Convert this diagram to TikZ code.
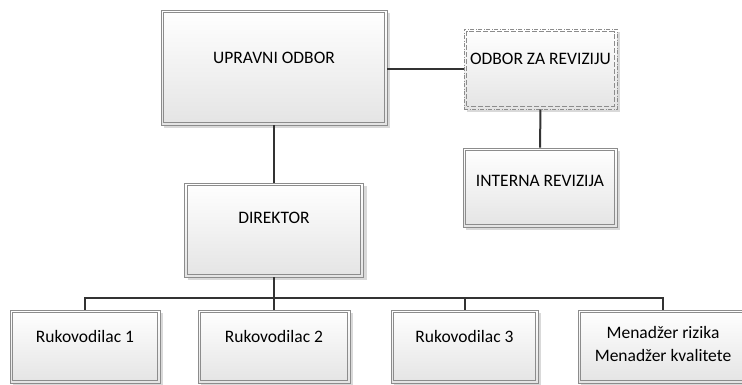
\documentclass[tikz,border=0pt]{standalone}
\usepackage{xcolor}
\usepackage{fontspec}
\setmainfont{Carlito}
\usetikzlibrary{shadows}

\definecolor{boxline}{HTML}{8C8C8C}
\definecolor{boxbottom}{HTML}{E4E4E4}
\definecolor{linkline}{HTML}{333333}

\tikzset{
    orgbox/.style={draw=boxline, line width=0.7pt,
        top color=white, bottom color=boxbottom, align=center,
        font=\fontsize{17.5}{23}\selectfont, text depth=20pt,
        drop shadow={shadow xshift=3pt, shadow yshift=-3pt, fill=black!15, opacity=1},
        path picture={\draw[boxline, line width=0.7pt, #1]
            ([shift={(2.8pt,2.8pt)}]path picture bounding box.south west) rectangle
            ([shift={(-2.8pt,-2.8pt)}]path picture bounding box.north east);}},
    orgbox/.default={solid},
    dashbox/.style={orgbox={dash pattern=on 5pt off 2pt}, dash pattern=on 4pt off 1.5pt on 1pt off 1.5pt},
    link/.style={draw=linkline, line width=2pt}
}

\begin{document}
\begin{tikzpicture}[x=1pt, y=-1pt]
        \useasboundingbox (0,0) rectangle (742,384);

        % Top level
        \node[orgbox, minimum width=226pt, minimum height=115pt] (uo) at (274,67.5) {UPRAVNI ODBOR};
        \node[dashbox, minimum width=153pt, minimum height=80pt, inner sep=1pt] (ozr) at (540.5,69) {ODBOR ZA REVIZIJU};
        \node[orgbox, minimum width=154pt, minimum height=79pt, text depth=14pt] (ir) at (540,187.5) {INTERNA REVIZIJA};

        % Director
        \node[orgbox, minimum width=179pt, minimum height=94pt, text depth=24pt] (dir) at (274,230) {DIREKTOR};

        % Managers
        \node[orgbox, minimum width=150pt, minimum height=73pt] (r1) at (85,346.5) {Rukovodilac 1};
        \node[orgbox, minimum width=152pt, minimum height=73pt] (r2) at (274,346.5) {Rukovodilac 2};
        \node[orgbox, minimum width=147pt, minimum height=73pt] (r3) at (464.5,346.5) {Rukovodilac 3};
        \node[orgbox, minimum width=170pt, minimum height=73pt, text depth=6pt] (mz) at (663,346.5) {Menadžer rizika\\Menadžer kvalitete};

        % Connectors
        \coordinate (bus) at (274,298);
        \draw[link] (uo.east |- ozr.west) -- (ozr.west);
        \draw[link] (ozr.south) -- (ir.north);
        \draw[link] (uo.south) -- (dir.north);
        \draw[link] (dir.south) -- (bus);
        \draw[link] (r1.north) |- (bus) -| (mz.north);
        \draw[link] (r2.north) -- (r2.north |- bus);
        \draw[link] (r3.north) -- (r3.north |- bus);
    \end{tikzpicture}
\end{document}
